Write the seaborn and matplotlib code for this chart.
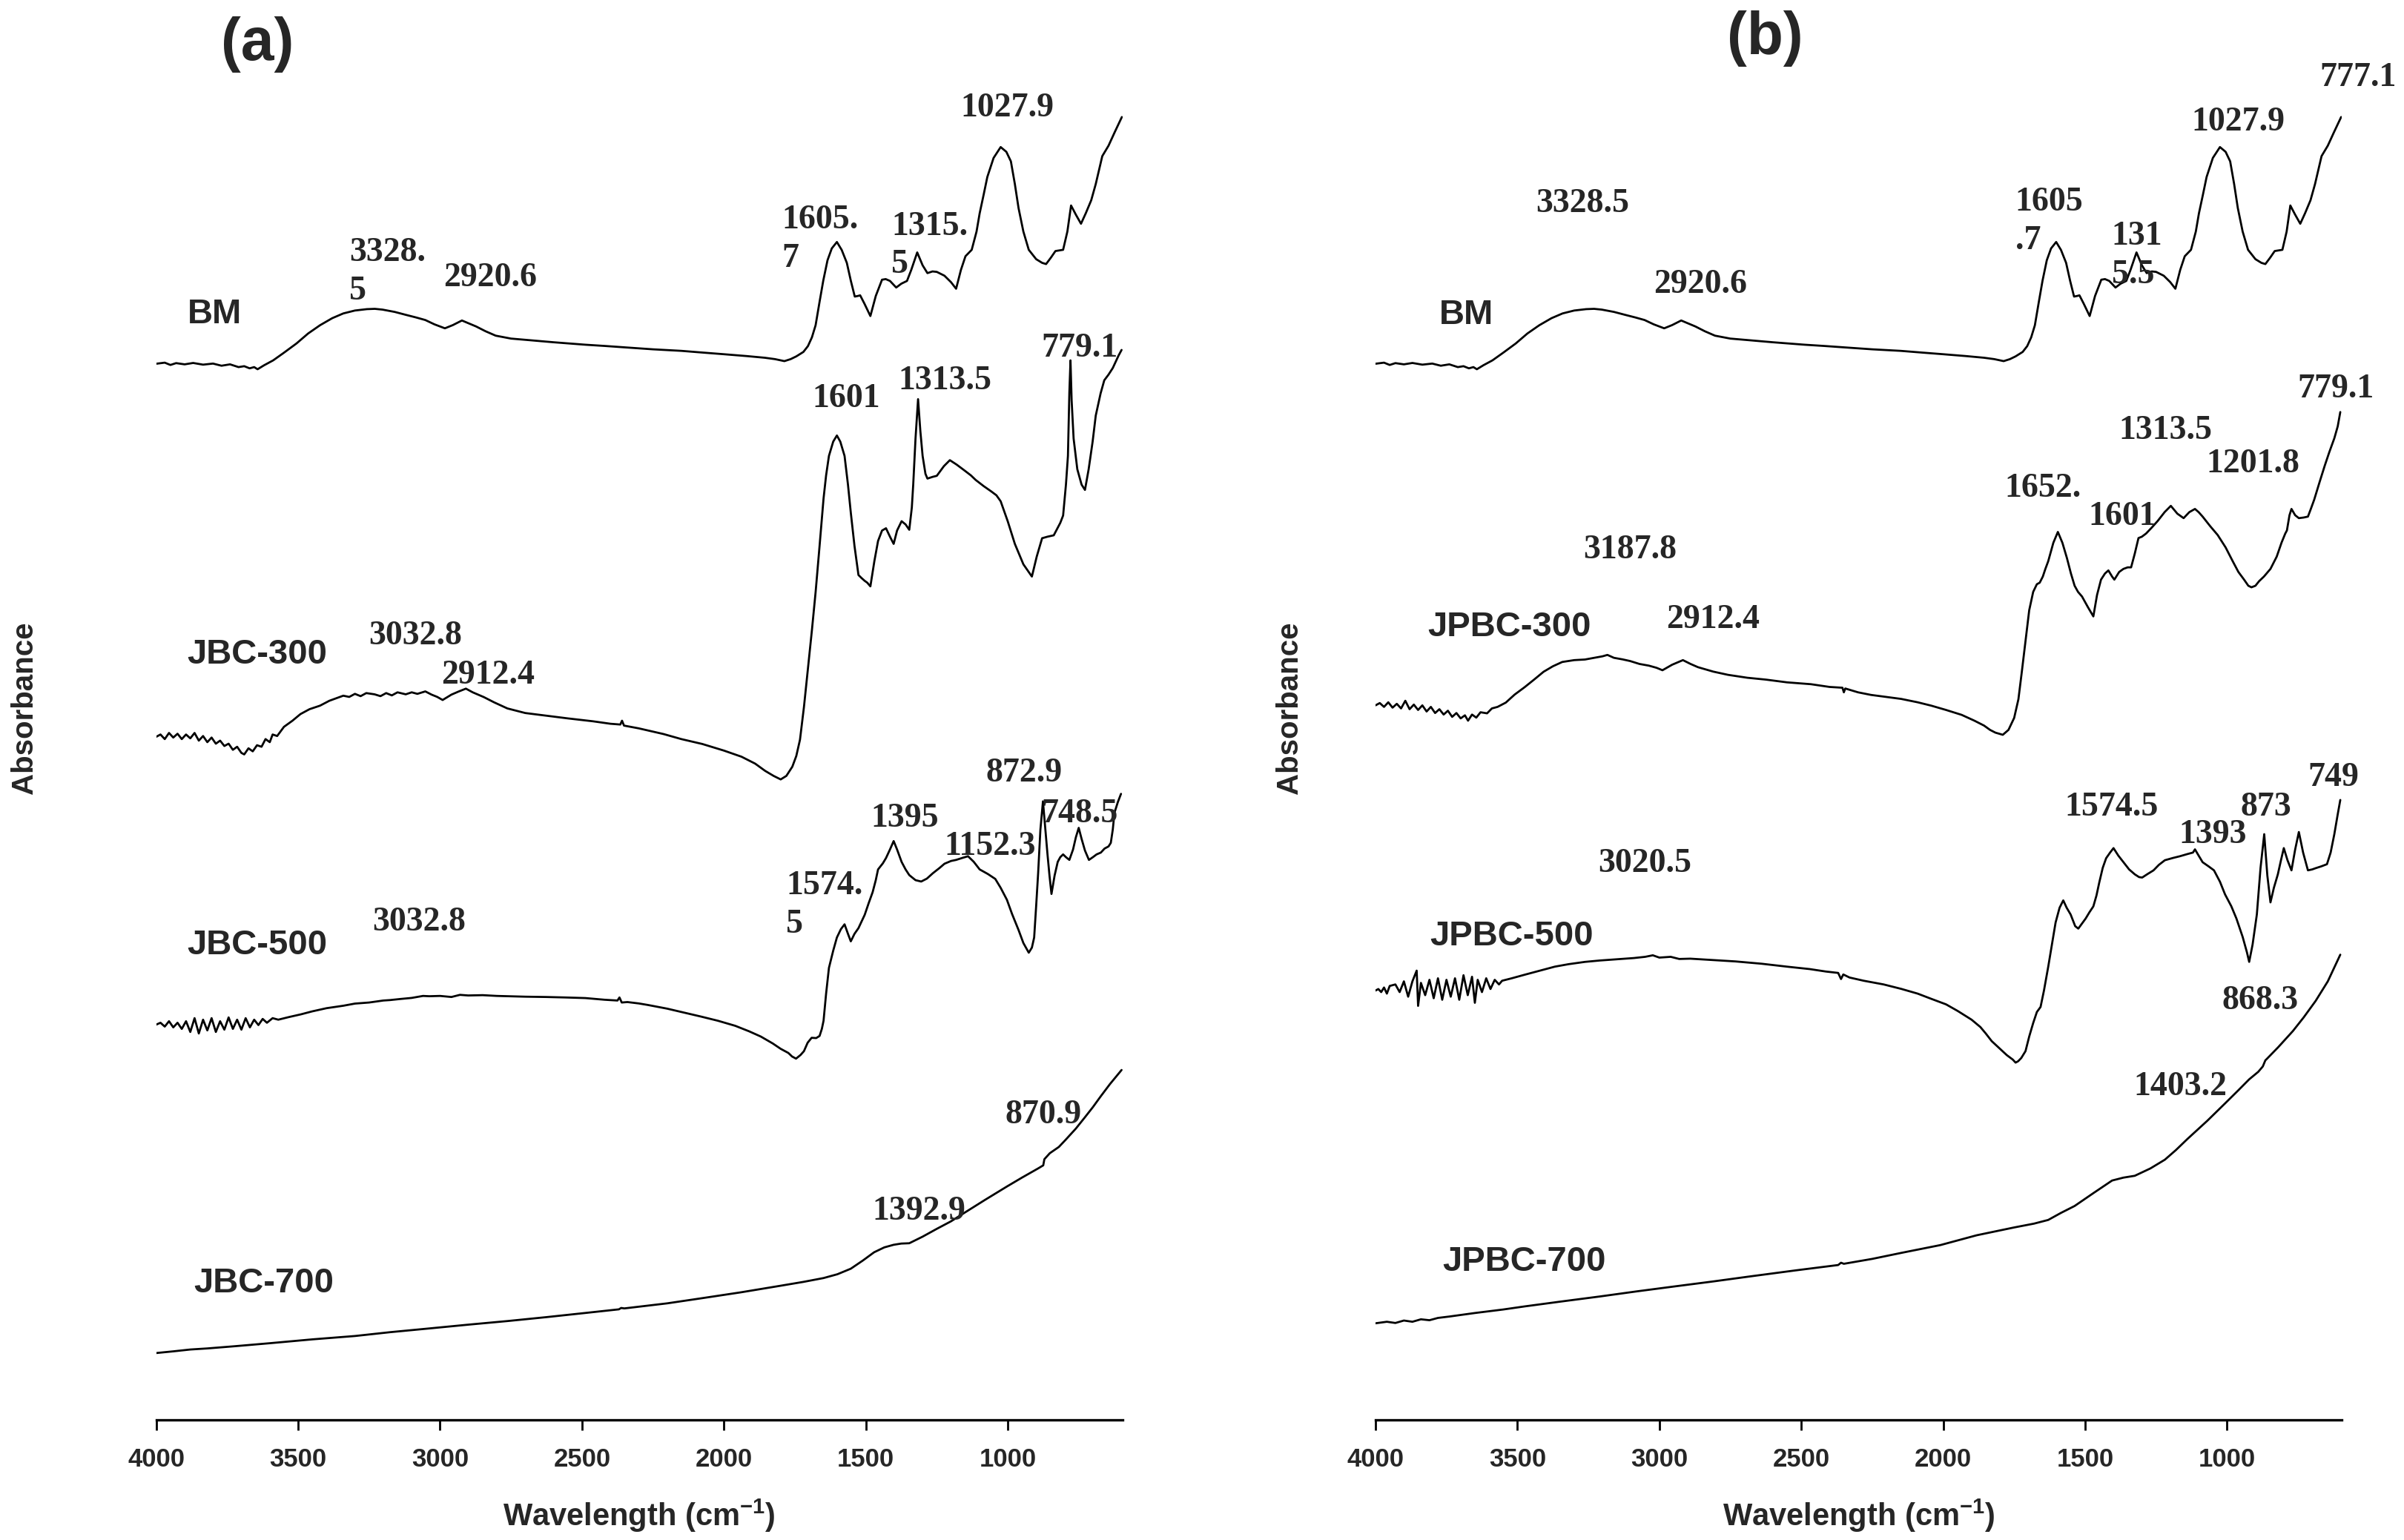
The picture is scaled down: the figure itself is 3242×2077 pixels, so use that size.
import matplotlib
matplotlib.use("Agg")
import matplotlib.pyplot as plt
import pandas as pd
import seaborn as sns

# ---------------- data (wavenumber in cm-1, absorbance in a.u., offset-stacked) -------------
bm_wn = [4000, 3970, 3950, 3930, 3900, 3870, 3835, 3800, 3770, 3740, 3710, 3690, 3671, 3655, 3643,
         3620, 3588, 3550, 3506, 3465, 3423, 3380, 3341, 3300, 3258, 3230, 3203, 3160, 3121, 3085,
         3052, 3020, 2983, 2955, 2923, 2900, 2873, 2840, 2804, 2750, 2681, 2600, 2488, 2420, 2351,
         2250, 2150, 2076, 2000, 1920, 1856, 1820, 1787, 1765, 1745, 1720, 1704, 1690, 1677, 1663,
         1650, 1635, 1620, 1602, 1585, 1567, 1553, 1539, 1528, 1520, 1505, 1484, 1465, 1443, 1430,
         1415, 1393, 1375, 1355, 1340, 1319, 1300, 1283, 1265, 1250, 1223, 1200, 1182, 1165, 1149,
         1127, 1110, 1099, 1085, 1072, 1050, 1025, 1005, 989, 975, 962, 945, 926, 900, 879,
         865, 848, 832, 805, 790, 777, 760, 742, 725, 706, 690, 667, 645, 624, 610, 598]
bm_abs = [6.888, 6.895, 6.880, 6.892, 6.884, 6.893, 6.882, 6.889, 6.875, 6.884, 6.866, 6.872, 6.858, 6.866, 6.852,
          6.878, 6.910, 6.960, 7.020, 7.085, 7.139, 7.185, 7.216, 7.235, 7.244, 7.246, 7.241, 7.226, 7.207, 7.190,
          7.173, 7.145, 7.119, 7.140, 7.170, 7.152, 7.131, 7.100, 7.071, 7.052, 7.041, 7.028, 7.012, 7.004, 6.995,
          6.982, 6.972, 6.961, 6.950, 6.938, 6.927, 6.918, 6.905, 6.918, 6.936, 6.965, 7.003, 7.060, 7.139, 7.292,
          7.430, 7.563, 7.640, 7.682, 7.630, 7.546, 7.430, 7.326, 7.330, 7.334, 7.280, 7.199, 7.330, 7.436, 7.440,
          7.428, 7.385, 7.410, 7.428, 7.500, 7.614, 7.530, 7.479, 7.490, 7.487, 7.462, 7.420, 7.377, 7.500, 7.589,
          7.631, 7.750, 7.869, 7.990, 8.106, 8.230, 8.301, 8.270, 8.208, 8.060, 7.903, 7.750, 7.631, 7.570, 7.546,
          7.538, 7.580, 7.623, 7.631, 7.750, 7.920, 7.860, 7.801, 7.870, 7.954, 8.060, 8.242, 8.310, 8.395, 8.450, 8.497]

jbc300_wn = [4000, 3985, 3970, 3955, 3940, 3925, 3910, 3895, 3880, 3865, 3850, 3835, 3820, 3805, 3790,
             3775, 3760, 3745, 3730, 3715, 3700, 3690, 3675, 3660, 3645, 3629, 3615, 3600, 3590, 3574,
             3550, 3520, 3492, 3460, 3423, 3390, 3360, 3341, 3320, 3300, 3280, 3260, 3231, 3210, 3190,
             3170, 3150, 3121, 3100, 3080, 3052, 3030, 3010, 2991, 2960, 2935, 2909, 2885, 2846, 2810,
             2763, 2700, 2626, 2550, 2461, 2400, 2365, 2359, 2352, 2300, 2213, 2150, 2076, 2000, 1938,
             1890, 1855, 1825, 1800, 1780, 1759, 1745, 1732, 1718, 1704, 1690, 1677, 1663, 1649, 1640,
             1630, 1615, 1602, 1590, 1575, 1563, 1553, 1540, 1526, 1515, 1504, 1495, 1484, 1470, 1457,
             1443, 1429, 1415, 1402, 1390, 1374, 1360, 1347, 1338, 1333, 1325, 1316, 1308, 1300, 1290,
             1283, 1265, 1250, 1225, 1204, 1180, 1154, 1130, 1113, 1085, 1058, 1040, 1025, 1000, 975,
             945, 915, 898, 879, 860, 838, 815, 805, 795, 788, 783, 779, 775, 768, 755,
             740, 728, 715, 701, 690, 673, 660, 645, 630, 620, 610, 599]
jbc300_abs = [4.455, 4.470, 4.440, 4.480, 4.450, 4.475, 4.440, 4.470, 4.445, 4.480, 4.430, 4.460, 4.420, 4.450, 4.410,
              4.430, 4.395, 4.410, 4.370, 4.390, 4.350, 4.340, 4.380, 4.360, 4.400, 4.390, 4.440, 4.420, 4.470, 4.460,
              4.520, 4.560, 4.603, 4.635, 4.658, 4.690, 4.710, 4.723, 4.715, 4.735, 4.720, 4.740, 4.732, 4.720, 4.740,
              4.725, 4.745, 4.732, 4.745, 4.735, 4.751, 4.730, 4.715, 4.695, 4.730, 4.750, 4.769, 4.745, 4.714, 4.680,
              4.640, 4.610, 4.593, 4.575, 4.556, 4.540, 4.535, 4.560, 4.528, 4.510, 4.473, 4.440, 4.408, 4.365, 4.325,
              4.280, 4.233, 4.200, 4.177, 4.200, 4.260, 4.330, 4.436, 4.650, 4.899, 5.150, 5.398, 5.700, 6.009, 6.160,
              6.287, 6.380, 6.420, 6.380, 6.287, 6.100, 5.917, 5.700, 5.510, 5.490, 5.472, 5.460, 5.436, 5.600, 5.732,
              5.800, 5.815, 5.760, 5.713, 5.800, 5.861, 5.840, 5.805, 5.950, 6.102, 6.400, 6.657, 6.450, 6.287, 6.170,
              6.139, 6.150, 6.157, 6.220, 6.259, 6.230, 6.194, 6.160, 6.130, 6.090, 6.055, 6.030, 5.991, 5.860, 5.713,
              5.580, 5.500, 5.630, 5.750, 5.760, 5.769, 5.850, 5.898, 6.100, 6.287, 6.700, 6.910, 6.650, 6.400, 6.200,
              6.100, 6.065, 6.200, 6.380, 6.550, 6.694, 6.780, 6.817, 6.860, 6.900, 6.940, 6.978]

jbc500_wn = [4000, 3985, 3970, 3955, 3940, 3925, 3910, 3895, 3880, 3865, 3850, 3835, 3820, 3805, 3790,
             3775, 3760, 3745, 3730, 3715, 3700, 3685, 3670, 3655, 3640, 3625, 3610, 3590, 3570, 3533,
             3490, 3451, 3400, 3341, 3300, 3250, 3200, 3176, 3140, 3100, 3060, 3038, 3000, 2960, 2930,
             2901, 2850, 2800, 2763, 2700, 2626, 2560, 2488, 2420, 2375, 2368, 2360, 2340, 2300, 2268,
             2200, 2131, 2080, 2021, 1960, 1911, 1870, 1828, 1800, 1773, 1760, 1746, 1730, 1718, 1705,
             1691, 1675, 1663, 1655, 1649, 1640, 1630, 1615, 1602, 1588, 1575, 1563, 1553, 1540, 1526,
             1515, 1504, 1490, 1476, 1465, 1457, 1440, 1429, 1415, 1402, 1390, 1374, 1360, 1347, 1325,
             1305, 1285, 1264, 1240, 1223, 1200, 1182, 1160, 1140, 1120, 1099, 1070, 1044, 1025, 1003,
             985, 962, 945, 926, 915, 907, 900, 893, 885, 876, 868, 860, 853, 846, 835,
             824, 815, 805, 795, 783, 770, 760, 750, 740, 728, 714, 700, 687, 672, 659,
             645, 637, 630, 624, 612, 601]
jbc500_abs = [2.578, 2.590, 2.565, 2.600, 2.560, 2.590, 2.550, 2.600, 2.530, 2.620, 2.520, 2.610, 2.540, 2.620, 2.530,
              2.600, 2.545, 2.625, 2.550, 2.610, 2.545, 2.620, 2.560, 2.610, 2.575, 2.615, 2.590, 2.620, 2.610, 2.627,
              2.645, 2.664, 2.685, 2.701, 2.715, 2.722, 2.735, 2.738, 2.745, 2.752, 2.765, 2.763, 2.765, 2.758, 2.772,
              2.768, 2.770, 2.765, 2.763, 2.760, 2.758, 2.755, 2.751, 2.740, 2.735, 2.755, 2.722, 2.725, 2.716, 2.706,
              2.682, 2.652, 2.630, 2.603, 2.570, 2.534, 2.500, 2.455, 2.420, 2.393, 2.370, 2.356, 2.380, 2.405, 2.460,
              2.492, 2.490, 2.504, 2.550, 2.603, 2.780, 2.948, 3.060, 3.146, 3.200, 3.232, 3.170, 3.121, 3.170, 3.207,
              3.250, 3.294, 3.370, 3.442, 3.520, 3.590, 3.630, 3.664, 3.720, 3.775, 3.720, 3.639, 3.590, 3.553, 3.520,
              3.511, 3.530, 3.565, 3.600, 3.627, 3.645, 3.652, 3.665, 3.676, 3.640, 3.590, 3.560, 3.528, 3.470, 3.392,
              3.300, 3.195, 3.110, 3.047, 3.080, 3.146, 3.350, 3.565, 3.850, 4.034, 3.860, 3.688, 3.550, 3.430, 3.550,
              3.639, 3.670, 3.688, 3.670, 3.652, 3.720, 3.800, 3.861, 3.790, 3.713, 3.652, 3.670, 3.688, 3.700, 3.726,
              3.740, 3.763, 3.850, 3.960, 4.030, 4.083]

jbc700_wn = [4000, 3940, 3880, 3820, 3726, 3600, 3451, 3300, 3176, 3040, 2901, 2760, 2626, 2490, 2370,
             2362, 2351, 2200, 2076, 1940, 1800, 1720, 1649, 1600, 1553, 1510, 1471, 1435, 1402, 1375,
             1347, 1300, 1250, 1200, 1154, 1080, 1003, 950, 893, 875, 871, 852, 820, 797, 760,
             728, 700, 673, 640, 599]
jbc700_abs = [0.436, 0.447, 0.459, 0.466, 0.480, 0.500, 0.525, 0.547, 0.572, 0.596, 0.621, 0.645, 0.670, 0.697, 0.721,
              0.730, 0.727, 0.760, 0.794, 0.832, 0.875, 0.900, 0.925, 0.950, 0.986, 1.040, 1.093, 1.125, 1.142, 1.150,
              1.152, 1.195, 1.246, 1.295, 1.349, 1.435, 1.522, 1.580, 1.640, 1.660, 1.700, 1.739, 1.780, 1.825, 1.900,
              1.974, 2.040, 2.109, 2.190, 2.282]

jpbc300_wn = [4000, 3985, 3970, 3955, 3940, 3925, 3910, 3895, 3880, 3865, 3850, 3835, 3820, 3805, 3790,
              3775, 3760, 3745, 3730, 3715, 3700, 3685, 3674, 3660, 3645, 3630, 3607, 3590, 3570, 3541,
              3510, 3475, 3440, 3408, 3375, 3342, 3300, 3262, 3230, 3200, 3183, 3160, 3130, 3103, 3070,
              3037, 3010, 2989, 2955, 2917, 2890, 2864, 2810, 2758, 2690, 2625, 2550, 2466, 2400, 2355,
              2350, 2345, 2300, 2254, 2200, 2148, 2090, 2042, 1990, 1935, 1890, 1856, 1835, 1816, 1790,
              1770, 1750, 1735, 1723, 1710, 1697, 1683, 1670, 1660, 1649, 1640, 1630, 1612, 1596, 1580,
              1564, 1550, 1537, 1525, 1511, 1490, 1471, 1458, 1444, 1430, 1418, 1405, 1397, 1380, 1365,
              1350, 1338, 1325, 1312, 1300, 1285, 1265, 1245, 1220, 1198, 1175, 1153, 1133, 1113, 1100,
              1086, 1060, 1033, 1005, 980, 960, 940, 925, 914, 900, 887, 870, 847, 825, 808,
              795, 789, 780, 773, 760, 747, 730, 715, 705, 693, 675, 656, 640, 622, 610, 601]
jpbc300_abs = [4.660, 4.675, 4.650, 4.680, 4.645, 4.670, 4.640, 4.690, 4.635, 4.665, 4.630, 4.660, 4.620, 4.650, 4.610,
               4.635, 4.600, 4.625, 4.585, 4.610, 4.575, 4.595, 4.560, 4.600, 4.580, 4.615, 4.608, 4.640, 4.650, 4.678,
               4.730, 4.778, 4.830, 4.879, 4.915, 4.943, 4.955, 4.959, 4.970, 4.980, 4.989, 4.970, 4.960, 4.949, 4.930,
               4.919, 4.905, 4.889, 4.925, 4.955, 4.930, 4.909, 4.880, 4.859, 4.840, 4.828, 4.810, 4.798, 4.780, 4.775,
               4.745, 4.770, 4.745, 4.728, 4.715, 4.702, 4.680, 4.658, 4.630, 4.598, 4.560, 4.528, 4.500, 4.482, 4.468,
               4.500, 4.578, 4.700, 4.879, 5.080, 5.280, 5.400, 5.450, 5.460, 5.500, 5.550, 5.600, 5.720, 5.791, 5.720,
               5.620, 5.520, 5.440, 5.400, 5.370, 5.300, 5.240, 5.380, 5.480, 5.520, 5.540, 5.500, 5.480, 5.530, 5.550,
               5.560, 5.560, 5.650, 5.751, 5.760, 5.781, 5.820, 5.861, 5.920, 5.961, 5.910, 5.881, 5.920, 5.941, 5.920,
               5.891, 5.830, 5.771, 5.690, 5.600, 5.530, 5.480, 5.440, 5.430, 5.440, 5.470, 5.500, 5.550, 5.630, 5.721,
               5.780, 5.801, 5.900, 5.941, 5.900, 5.881, 5.885, 5.891, 5.940, 6.001, 6.110, 6.222, 6.310, 6.402, 6.480, 6.573]

jpbc500_wn = [4000, 3990, 3980, 3970, 3960, 3950, 3930, 3915, 3900, 3885, 3870, 3855, 3850, 3840, 3825,
              3810, 3795, 3780, 3765, 3750, 3735, 3720, 3705, 3690, 3675, 3660, 3650, 3640, 3625, 3610,
              3595, 3580, 3565, 3554, 3520, 3475, 3420, 3368, 3320, 3262, 3210, 3156, 3090, 3050, 3023,
              3000, 2960, 2930, 2891, 2800, 2732, 2640, 2546, 2470, 2413, 2370, 2360, 2352, 2330, 2280,
              2210, 2148, 2090, 2042, 1990, 1949, 1900, 1869, 1850, 1829, 1800, 1776, 1755, 1745, 1736,
              1725, 1710, 1697, 1683, 1670, 1657, 1645, 1630, 1617, 1604, 1590, 1577, 1565, 1551, 1535,
              1524, 1510, 1498, 1485, 1471, 1460, 1450, 1438, 1426, 1412, 1400, 1383, 1365, 1345, 1325,
              1310, 1299, 1280, 1259, 1240, 1219, 1190, 1166, 1140, 1120, 1113, 1100, 1086, 1065, 1046,
              1025, 1007, 985, 967, 945, 930, 922, 910, 895, 882, 869, 858, 847, 835, 821,
              810, 800, 787, 773, 760, 747, 732, 715, 700, 688, 668, 648, 635, 622, 610, 601]
jpbc500_abs = [2.800, 2.810, 2.790, 2.820, 2.780, 2.830, 2.840, 2.790, 2.860, 2.760, 2.860, 2.930, 2.700, 2.850, 2.770,
               2.870, 2.750, 2.880, 2.740, 2.870, 2.760, 2.880, 2.740, 2.900, 2.770, 2.890, 2.720, 2.870, 2.790, 2.880,
               2.810, 2.870, 2.840, 2.864, 2.880, 2.903, 2.930, 2.956, 2.972, 2.987, 2.996, 3.003, 3.012, 3.020, 3.030,
               3.015, 3.020, 3.006, 3.008, 2.998, 2.990, 2.975, 2.955, 2.940, 2.924, 2.915, 2.875, 2.905, 2.885, 2.864,
               2.840, 2.811, 2.780, 2.746, 2.710, 2.667, 2.610, 2.562, 2.520, 2.470, 2.420, 2.379, 2.350, 2.330, 2.339,
               2.360, 2.405, 2.500, 2.588, 2.660, 2.693, 2.800, 2.955, 3.100, 3.244, 3.340, 3.388, 3.340, 3.296, 3.220,
               3.204, 3.240, 3.270, 3.310, 3.349, 3.420, 3.506, 3.600, 3.663, 3.700, 3.729, 3.680, 3.637, 3.590, 3.558,
               3.540, 3.537, 3.560, 3.584, 3.620, 3.650, 3.665, 3.676, 3.690, 3.700, 3.721, 3.680, 3.637, 3.610, 3.584,
               3.510, 3.427, 3.350, 3.270, 3.150, 3.050, 2.987, 3.100, 3.296, 3.600, 3.820, 3.550, 3.375, 3.470, 3.558,
               3.650, 3.729, 3.650, 3.584, 3.720, 3.834, 3.700, 3.584, 3.590, 3.598, 3.610, 3.624, 3.700, 3.820, 3.950, 4.043]

jpbc700_wn = [4000, 3960, 3930, 3900, 3870, 3840, 3810, 3780, 3740, 3650, 3550, 3475, 3350, 3209, 3080,
              2944, 2810, 2679, 2520, 2370, 2360, 2350, 2250, 2148, 2010, 1882, 1750, 1680, 1630, 1585,
              1537, 1470, 1405, 1365, 1325, 1270, 1219, 1180, 1139, 1070, 1007, 960, 922, 890, 874,
              865, 861, 820, 768, 730, 688, 645, 601]
jpbc700_abs = [0.630, 0.640, 0.632, 0.648, 0.640, 0.656, 0.650, 0.665, 0.674, 0.697, 0.720, 0.740, 0.771, 0.805, 0.838,
               0.871, 0.903, 0.936, 0.975, 1.010, 1.025, 1.018, 1.050, 1.089, 1.140, 1.204, 1.255, 1.280, 1.304, 1.350,
               1.395, 1.480, 1.561, 1.580, 1.592, 1.640, 1.697, 1.760, 1.833, 1.950, 2.064, 2.150, 2.221, 2.270, 2.305,
               2.345, 2.352, 2.430, 2.536, 2.625, 2.732, 2.860, 3.034]

x_ticks = [4000, 3500, 3000, 2500, 2000, 1500, 1000]

panel_a_samples = ["BM", "JBC-300", "JBC-500", "JBC-700"]
panel_b_samples = ["BM", "JPBC-300", "JPBC-500", "JPBC-700"]

# peak annotations: (text, wavenumber, absorbance, horizontal alignment)
peaks_a = [
    ("3328.\n5", 3320, 7.486, "left"), ("2920.6", 2824, 7.446, "center"),
    ("1605.\n7", 1796, 7.699, "left"), ("1315.\n5", 1409, 7.657, "left"),
    ("1027.9", 1002, 8.554, "center"),
    ("1601", 1568, 6.658, "center"), ("1313.5", 1221, 6.774, "center"), ("779.1", 746, 6.987, "center"),
    ("3032.8", 3088, 5.110, "center"), ("2912.4", 2832, 4.854, "center"),
    ("872.9", 942, 4.215, "center"), ("1395", 1362, 3.922, "center"), ("1152.3", 1062, 3.737, "center"),
    ("748.5", 746, 3.949, "center"), ("1574.\n5", 1780, 3.357, "left"), ("3032.8", 3075, 3.243, "center"),
    ("870.9", 874, 1.986, "center"), ("1392.9", 1312, 1.357, "center"),
]
peaks_b = [
    ("3328.5", 3271, 7.930, "center"), ("2920.6", 2856, 7.403, "center"),
    ("1605\n.7", 1746, 7.814, "left"), ("131\n5.5", 1407, 7.593, "left"),
    ("1027.9", 961, 8.462, "center"), ("777.1", 538, 8.751, "center"),
    ("779.1", 616, 6.721, "center"), ("1313.5", 1217, 6.450, "center"), ("1201.8", 909, 6.232, "center"),
    ("1652.", 1650, 6.073, "center"), ("1601", 1368, 5.889, "center"), ("3187.8", 3104, 5.671, "center"),
    ("2912.4", 2812, 5.219, "center"),
    ("749", 624, 4.186, "center"), ("1574.5", 1407, 3.993, "center"), ("873", 864, 3.993, "center"),
    ("1393", 1050, 3.814, "center"), ("3020.5", 3050, 3.625, "center"),
    ("868.3", 882, 2.731, "center"), ("1403.2", 1164, 2.170, "center"),
]
# sample name labels: (text, wavenumber, absorbance)
names_a = [("BM", 3795, 7.21), ("JBC-300", 3644, 4.991), ("JBC-500", 3644, 3.096), ("JBC-700", 3621, 0.888)]
names_b = [("BM", 3681, 7.207), ("JPBC-300", 3527, 5.168), ("JPBC-500", 3520, 3.151), ("JPBC-700", 3475, 1.028)]

# ---------------- build long tables ----------------
series = {
    "BM": (bm_wn, bm_abs),
    "JBC-300": (jbc300_wn, jbc300_abs),
    "JBC-500": (jbc500_wn, jbc500_abs),
    "JBC-700": (jbc700_wn, jbc700_abs),
    "JPBC-300": (jpbc300_wn, jpbc300_abs),
    "JPBC-500": (jpbc500_wn, jpbc500_abs),
    "JPBC-700": (jpbc700_wn, jpbc700_abs),
}


def long_table(names):
    frames = []
    for n in names:
        wn, ab = series[n]
        frames.append(pd.DataFrame({"wavenumber": wn, "absorbance": ab, "sample": n}))
    return pd.concat(frames, ignore_index=True)


df_a = long_table(panel_a_samples)
df_b = long_table(panel_b_samples)

# ---------------- style ----------------
sns.set_theme(style="white")
plt.rcParams["font.family"] = ["Liberation Sans", "DejaVu Sans"]
plt.rcParams["mathtext.fontset"] = "custom"
plt.rcParams["mathtext.rm"] = "Liberation Sans:bold"
plt.rcParams["mathtext.bf"] = "Liberation Sans:bold"
plt.rcParams["mathtext.default"] = "bf"

W, H = 3242, 2077
fig = plt.figure(figsize=(W / 100, H / 100), dpi=100)
fig.patch.set_facecolor("white")

ax_w = 1303 / W
ax_h = 0.8961
bottom = (H - 1915) / H
ax_a = fig.add_axes([210.7 / W, bottom, ax_w, ax_h])
ax_b = fig.add_axes([1855 / W, bottom, ax_w, ax_h])

SERIF = ["Liberation Serif", "DejaVu Serif"]
SANS = ["Liberation Sans", "DejaVu Sans"]


def draw_panel(ax, df, peaks, names, letter, letter_xy, ylab_x):
    sns.lineplot(data=df, x="wavenumber", y="absorbance", units="sample", estimator=None,
                 sort=False, color="black", linewidth=2.0, ax=ax, legend=False)
    ax.set_xlim(4000, 596)
    ax.set_ylim(0, 9.0)
    ax.set_facecolor("white")
    for s in ["left", "right", "top"]:
        ax.spines[s].set_visible(False)
    ax.spines["bottom"].set_linewidth(2.4)
    ax.spines["bottom"].set_color("black")
    ax.set_xticks(x_ticks)
    ax.set_xticklabels([str(t) for t in x_ticks])
    ax.set_yticks([])
    ax.tick_params(axis="x", direction="out", length=10, width=2.0, color="black",
                   pad=17.0, labelsize=25, bottom=True)
    for lab in ax.get_xticklabels():
        lab.set_fontweight("bold")
        lab.set_family(SANS)
    ax.set_xlabel("Wavelength (cm$^{-1}$)", fontsize=30, fontweight="bold", va="center")
    ax.xaxis.set_label_coords(0.5, (1915 - 2044) / 1861)
    ax.set_ylabel("Absorbance", fontsize=29, fontweight="bold", rotation=90, va="center", ha="center")
    ax.yaxis.set_label_coords(ylab_x, 0.5158)
    for txt, x, y, ha in peaks:
        ax.text(x, y, txt, family=SERIF, fontweight="bold", fontsize=33, ha=ha, va="center",
                multialignment="left", linespacing=1.3, clip_on=False)
    for txt, x, y in names:
        ax.text(x, y, txt, family=SANS, fontweight="bold", fontsize=34, ha="center", va="center")
    ax.text(letter_xy[0], letter_xy[1], letter, transform=ax.transAxes, family=SANS,
            fontweight="bold", fontsize=58, ha="center", va="center", clip_on=False)


draw_panel(ax_a, df_a, peaks_a, names_a, "(a)", ((347 - 210.7) / 1303, (1915 - 60) / 1861),
           (33 - 210.7) / 1303)
draw_panel(ax_b, df_b, peaks_b, names_b, "(b)", ((2380 - 1855) / 1303, (1915 - 52) / 1861),
           (1739 - 1855) / 1303)

fig.savefig("out.png", dpi=100, facecolor="white")
